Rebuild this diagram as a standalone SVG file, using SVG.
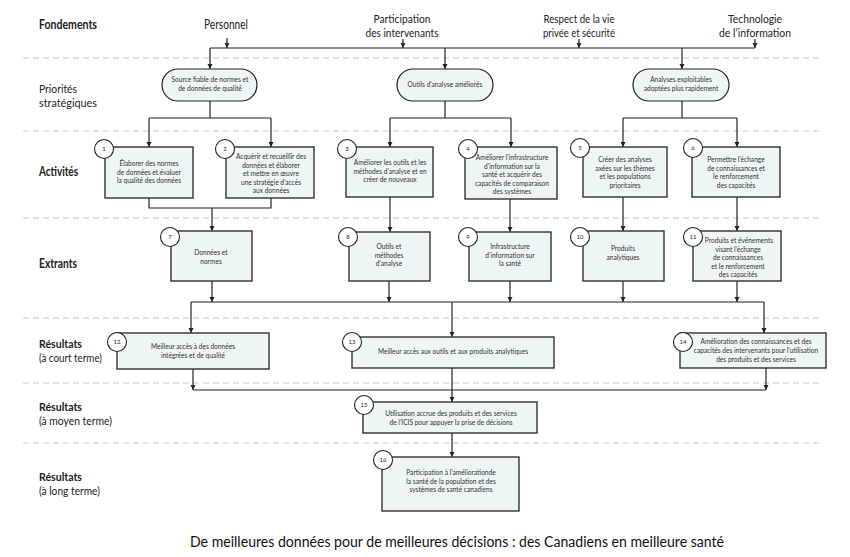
<svg xmlns="http://www.w3.org/2000/svg" width="850" height="557" viewBox="0 0 850 557">
<style>
.sep{stroke:#c8c8c8;stroke-width:1;stroke-dasharray:6 4;fill:none}
.lbl{font-family:Lato,"Liberation Sans",sans-serif;font-size:12.5px;fill:#222}
.l2{font-size:11.5px}
.lb{font-weight:bold}
.fd{font-family:Lato,"Liberation Sans",sans-serif;font-size:11.5px;fill:#222;text-anchor:middle}
.f1{font-size:12.5px}
.box{fill:#edf5f5;stroke:#333;stroke-width:1.4}
.pill{fill:#edf5f5;stroke:#222;stroke-width:1.2}
.bt{font-family:Lato,"Liberation Sans",sans-serif;font-size:6.6px;fill:#333;text-anchor:middle}
.num{fill:#fff;stroke:#222;stroke-width:1.1}
.nt{font-family:Lato,"Liberation Sans",sans-serif;font-size:6px;fill:#222;text-anchor:middle}
.c{stroke:#222;stroke-width:1.2;fill:none}
.a{stroke:#222;stroke-width:1.2;fill:none;marker-end:url(#ah)}
.title{font-family:Lato,"Liberation Sans",sans-serif;font-size:15.5px;fill:#111;text-anchor:middle}
</style>
<defs>
<marker id="ah" markerUnits="userSpaceOnUse" markerWidth="6" markerHeight="6" refX="5" refY="3" orient="auto">
<path d="M0,0.5 L5,3 L0,5.5 z" fill="#222"/>
</marker>
</defs>

<g id="separators">
<line class="sep" x1="23" y1="58" x2="823" y2="58"/>
<line class="sep" x1="23" y1="131" x2="823" y2="131"/>
<line class="sep" x1="23" y1="218" x2="823" y2="218"/>
<line class="sep" x1="23" y1="318" x2="823" y2="318"/>
<line class="sep" x1="23" y1="383" x2="823" y2="383"/>
<line class="sep" x1="23" y1="443" x2="823" y2="443"/>
</g>

<g id="row-labels">
<text class="lbl lb" x="39" y="29" textLength="58" lengthAdjust="spacingAndGlyphs">Fondements</text>
<text class="lbl l2"><tspan x="39" y="92.5" textLength="38" lengthAdjust="spacingAndGlyphs">Priorités</tspan><tspan x="39" y="106.5" textLength="58" lengthAdjust="spacingAndGlyphs">stratégiques</tspan></text>
<text class="lbl lb" x="39" y="176" textLength="39" lengthAdjust="spacingAndGlyphs">Activités</text>
<text class="lbl lb" x="39" y="268" textLength="38" lengthAdjust="spacingAndGlyphs">Extrants</text>
<text class="lbl l2"><tspan class="lb" x="39" y="348" textLength="43" lengthAdjust="spacingAndGlyphs">Résultats</tspan><tspan x="39" y="362" textLength="63" lengthAdjust="spacingAndGlyphs">(à court terme)</tspan></text>
<text class="lbl l2"><tspan class="lb" x="39" y="411" textLength="43" lengthAdjust="spacingAndGlyphs">Résultats</tspan><tspan x="39" y="425" textLength="73" lengthAdjust="spacingAndGlyphs">(à moyen terme)</tspan></text>
<text class="lbl l2"><tspan class="lb" x="39" y="481" textLength="43" lengthAdjust="spacingAndGlyphs">Résultats</tspan><tspan x="39" y="495" textLength="61" lengthAdjust="spacingAndGlyphs">(à long terme)</tspan></text>
</g>

<g id="foundations">
<text class="fd f1" x="226" y="29" textLength="44" lengthAdjust="spacingAndGlyphs">Personnel</text>
<text class="fd"><tspan x="402" y="22.5" textLength="57" lengthAdjust="spacingAndGlyphs">Participation</tspan><tspan x="402" y="36.5" textLength="73" lengthAdjust="spacingAndGlyphs">des intervenants</tspan></text>
<text class="fd"><tspan x="579" y="22.5" textLength="71" lengthAdjust="spacingAndGlyphs">Respect de la vie</tspan><tspan x="579" y="36.5" textLength="72" lengthAdjust="spacingAndGlyphs">privée et sécurité</tspan></text>
<text class="fd"><tspan x="755" y="22.5" textLength="54" lengthAdjust="spacingAndGlyphs">Technologie</tspan><tspan x="755" y="36.5" textLength="72" lengthAdjust="spacingAndGlyphs">de l’information</tspan></text>
</g>

<g id="connectors">
<path class="a" d="M227,38 V48"/>
<path class="a" d="M403,39 V48"/>
<path class="a" d="M579,39 V48"/>
<path class="a" d="M755,39 V48"/>
<path class="c" d="M210,48 H755"/>
<path class="a" d="M210,48 V69"/>
<path class="a" d="M445,48 V69"/>
<path class="a" d="M682,48 V69"/>

<path class="c" d="M210,101 V118 M149,118 H271"/>
<path class="a" d="M149,118 V147"/>
<path class="a" d="M271,118 V147"/>
<path class="c" d="M445,101 V118 M390,118 H511"/>
<path class="a" d="M390,118 V147"/>
<path class="a" d="M511,118 V147"/>
<path class="c" d="M682,101 V118 M623,118 H737"/>
<path class="a" d="M623,118 V147"/>
<path class="a" d="M737,118 V147"/>

<path class="c" d="M149,198 V208 H271 V198"/>
<path class="a" d="M212,208 V231"/>
<path class="a" d="M390,197 V232"/>
<path class="a" d="M510,199 V232"/>
<path class="a" d="M623,197 V231"/>
<path class="a" d="M737,197 V231"/>

<path class="c" d="M191,302 H764"/>
<path class="a" d="M212,281 V302"/>
<path class="a" d="M389,281 V302"/>
<path class="a" d="M510,281 V302"/>
<path class="a" d="M623,281 V302"/>
<path class="a" d="M737,281 V302"/>
<path class="a" d="M191,302 V333"/>
<path class="a" d="M452,302 V337"/>
<path class="a" d="M764,302 V333"/>

<path class="c" d="M193,390 H766"/>
<path class="a" d="M193,369 V390"/>
<path class="a" d="M766,368 V390"/>
<path class="a" d="M452,368 V402"/>
<path class="a" d="M452,433 V457"/>
</g>

<g id="p1">
<rect class="pill" x="162" y="69" width="95" height="32" rx="16"/>
<text class="bt"><tspan x="210" y="82">Source fiable de normes et</tspan><tspan x="210" y="91">de données de qualité</tspan></text>
</g>
<g id="p2">
<rect class="pill" x="397" y="69" width="96" height="32" rx="16"/>
<text class="bt" x="445" y="87">Outils d’analyse améliorés</text>
</g>
<g id="p3">
<rect class="pill" x="633" y="69" width="96" height="32" rx="16"/>
<text class="bt"><tspan x="681" y="82">Analyses exploitables</tspan><tspan x="681" y="91">adoptées plus rapidement</tspan></text>
</g>

<g id="n1">
<rect class="box" x="105" y="147" width="88" height="51"/>
<text class="bt"><tspan x="149" y="166">Élaborer des normes</tspan><tspan x="149" y="175">de données et évaluer</tspan><tspan x="149" y="183">la qualité des données</tspan></text>
<circle class="num" cx="104" cy="149" r="9.5"/>
<text class="nt" x="104" y="151">1</text>
</g>
<g id="n2">
<rect class="box" x="226" y="147" width="88" height="51"/>
<text class="bt"><tspan x="271" y="159">Acquérir et recueillir des</tspan><tspan x="271" y="167.5">données et élaborer</tspan><tspan x="271" y="176">et mettre en œuvre</tspan><tspan x="271" y="184.5">une stratégie d’accès</tspan><tspan x="271" y="193">aux données</tspan></text>
<circle class="num" cx="225" cy="149" r="9.5"/>
<text class="nt" x="225" y="151">2</text>
</g>
<g id="n3">
<rect class="box" x="346" y="147" width="87" height="50"/>
<text class="bt"><tspan x="390" y="165">Améliorer les outils et les</tspan><tspan x="390" y="174">méthodes d’analyse et en</tspan><tspan x="390" y="182">créer de nouveaux</tspan></text>
<circle class="num" cx="347" cy="149" r="9.5"/>
<text class="nt" x="347" y="151">3</text>
</g>
<g id="n4">
<rect class="box" x="465" y="147" width="92" height="52"/>
<text class="bt"><tspan x="512" y="160">Améliorer l’infrastructure</tspan><tspan x="512" y="168.5">d’information sur la</tspan><tspan x="512" y="177">santé et acquérir des</tspan><tspan x="512" y="185.5">capacités de comparaison</tspan><tspan x="512" y="194">des systèmes</tspan></text>
<circle class="num" cx="468" cy="149" r="9.5"/>
<text class="nt" x="468" y="151">4</text>
</g>
<g id="n5">
<rect class="box" x="583" y="147" width="84" height="50"/>
<text class="bt"><tspan x="625" y="162">Créer des analyses</tspan><tspan x="625" y="170.5">axées sur les thèmes</tspan><tspan x="625" y="179">et les populations</tspan><tspan x="625" y="187.5">prioritaires</tspan></text>
<circle class="num" cx="580" cy="148" r="9.5"/>
<text class="nt" x="580" y="150">5</text>
</g>
<g id="n6">
<rect class="box" x="692" y="147" width="88" height="50"/>
<text class="bt"><tspan x="736" y="162">Permettre l’échange</tspan><tspan x="736" y="170.5">de connaissances et</tspan><tspan x="736" y="179">le renforcement</tspan><tspan x="736" y="187.5">des capacités</tspan></text>
<circle class="num" cx="693" cy="148" r="9.5"/>
<text class="nt" x="693" y="150">6</text>
</g>

<g id="n7">
<rect class="box" x="171" y="231" width="81" height="50"/>
<text class="bt"><tspan x="211" y="255">Données et</tspan><tspan x="211" y="263.5">normes</tspan></text>
<circle class="num" cx="170" cy="237" r="9.5"/>
<text class="nt" x="170" y="239">7</text>
</g>
<g id="n8">
<rect class="box" x="349" y="232" width="81" height="49"/>
<text class="bt"><tspan x="389" y="249">Outils et</tspan><tspan x="389" y="257.5">méthodes</tspan><tspan x="389" y="266">d’analyse</tspan></text>
<circle class="num" cx="348" cy="237" r="9.5"/>
<text class="nt" x="348" y="239">8</text>
</g>
<g id="n9">
<rect class="box" x="469" y="232" width="82" height="49"/>
<text class="bt"><tspan x="510" y="249">Infrastructure</tspan><tspan x="510" y="257.5">d’information sur</tspan><tspan x="510" y="266">la santé</tspan></text>
<circle class="num" cx="468" cy="237" r="9.5"/>
<text class="nt" x="468" y="239">9</text>
</g>
<g id="n10">
<rect class="box" x="583" y="231" width="81" height="50"/>
<text class="bt"><tspan x="623" y="251">Produits</tspan><tspan x="623" y="259.5">analytiques</tspan></text>
<circle class="num" cx="580" cy="237" r="9.5"/>
<text class="nt" x="580" y="239">10</text>
</g>
<g id="n11">
<rect class="box" x="693" y="231" width="88" height="50"/>
<text class="bt"><tspan x="739" y="243">Produits et événements</tspan><tspan x="738" y="251.5">visant l’échange</tspan><tspan x="738" y="260">de connaissances</tspan><tspan x="738" y="268.5">et le renforcement</tspan><tspan x="738" y="277">des capacités</tspan></text>
<circle class="num" cx="693" cy="237" r="9.5"/>
<text class="nt" x="693" y="239">11</text>
</g>

<g id="n12">
<rect class="box" x="117" y="333" width="152" height="36"/>
<text class="bt"><tspan x="193" y="349">Meilleur accès à des données</tspan><tspan x="193" y="358">intégrées et de qualité</tspan></text>
<circle class="num" cx="117" cy="342" r="9.5"/>
<text class="nt" x="117" y="344">12</text>
</g>
<g id="n13">
<rect class="box" x="352" y="337" width="202" height="31"/>
<text class="bt" x="453" y="354">Meilleur accès aux outils et aux produits analytiques</text>
<circle class="num" cx="352" cy="342" r="9.5"/>
<text class="nt" x="352" y="344">13</text>
</g>
<g id="n14">
<rect class="box" x="680" y="333" width="146" height="35"/>
<text class="bt"><tspan x="756" y="344">Amélioration des connaissances et des</tspan><tspan x="756" y="353">capacités des intervenants pour l’utilisation</tspan><tspan x="756" y="361.5">des produits et des services</tspan></text>
<circle class="num" cx="683" cy="342" r="9.5"/>
<text class="nt" x="683" y="344">14</text>
</g>

<g id="n15">
<rect class="box" x="363" y="402" width="174" height="31"/>
<text class="bt"><tspan x="451" y="416">Utilisation accrue des produits et des services</tspan><tspan x="451" y="424.5">de l’ICIS pour appuyer la prise de décisions</tspan></text>
<circle class="num" cx="364" cy="405" r="9.5"/>
<text class="nt" x="364" y="407">15</text>
</g>
<g id="n16">
<rect class="box" x="382" y="457" width="137" height="54"/>
<text class="bt"><tspan x="451" y="475">Participation à l’améliorationde</tspan><tspan x="451" y="483.5">la santé de la population et des</tspan><tspan x="451" y="492">systèmes de santé canadiens</tspan></text>
<circle class="num" cx="383" cy="460" r="9.5"/>
<text class="nt" x="383" y="462">16</text>
</g>

<text class="title" x="457" y="547" textLength="534" lengthAdjust="spacingAndGlyphs">De meilleures données pour de meilleures décisions : des Canadiens en meilleure santé</text>
</svg>
